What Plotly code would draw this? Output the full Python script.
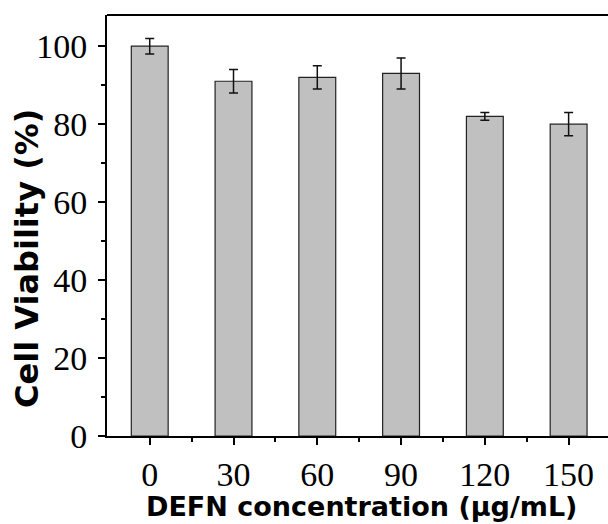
import plotly.graph_objects as go

categories = ["0", "30", "60", "90", "120", "150"]
viability = [100, 91, 92, 93, 82, 80]
errors = [2, 3, 3, 4, 1, 3]

xpos = list(range(len(categories)))

W, H = 608, 524
ML, MR, MT, MB = 107, 0, 15, 88
PW, PH = W - ML - MR, H - MT - MB

fig = go.Figure()
fig.add_trace(go.Bar(
    x=xpos, y=viability, width=0.44,
    marker=dict(color="#c0c0c0", line=dict(color="#222222", width=1.2)),
    error_y=dict(type="data", array=errors, visible=True, color="#111111", thickness=1.5, width=4.5),
))

serif = "Liberation Serif, Times New Roman, serif"
sans = "DejaVu Sans, Arial, sans-serif"

fig.update_layout(
    width=W, height=H,
    margin=dict(l=ML, r=MR, t=MT, b=MB),
    paper_bgcolor="white", plot_bgcolor="white",
    showlegend=False,
    xaxis=dict(
        range=[-0.51, 5.47], tickmode="array", tickvals=xpos, ticktext=categories,
        showline=True, linecolor="black", linewidth=2,
        ticks="outside", ticklen=7, tickwidth=2, tickcolor="black",
        minor=dict(tickvals=[x + 0.5 for x in xpos], ticks="outside", ticklen=4, tickwidth=2, tickcolor="black"),
        showgrid=False, zeroline=False,
        tickfont=dict(family=serif, size=34, color="black"),
    ),
    yaxis=dict(
        range=[0, 108], tickmode="array", tickvals=[0, 20, 40, 60, 80, 100],
        showline=True, linecolor="black", linewidth=2,
        ticks="outside", ticklen=7, tickwidth=2, tickcolor="black",
        minor=dict(tickvals=[10, 30, 50, 70, 90], ticks="outside", ticklen=4, tickwidth=2, tickcolor="black"),
        showgrid=False, zeroline=False,
        ticklabelstandoff=4,
        tickfont=dict(family=serif, size=34, color="black"),
    ),
    shapes=[dict(type="line", xref="paper", yref="paper", x0=0, x1=1, y0=1, y1=1,
                 line=dict(color="black", width=2))],
    annotations=[
        dict(text="<b>DEFN concentration (μg/mL)</b>", xref="paper", yref="paper",
             x=(361 - ML) / PW, y=-(506 - (H - MB)) / PH, xanchor="center", yanchor="middle",
             showarrow=False, font=dict(family=sans, size=27, color="black")),
        dict(text="<b>Cell Viability (%)</b>", xref="paper", yref="paper", textangle=-90,
             x=-(ML - 27) / PW, y=((H - MB) - 259) / PH, xanchor="center", yanchor="middle",
             showarrow=False, font=dict(family=sans, size=32, color="black")),
    ],
)

fig.write_html("out.html")
